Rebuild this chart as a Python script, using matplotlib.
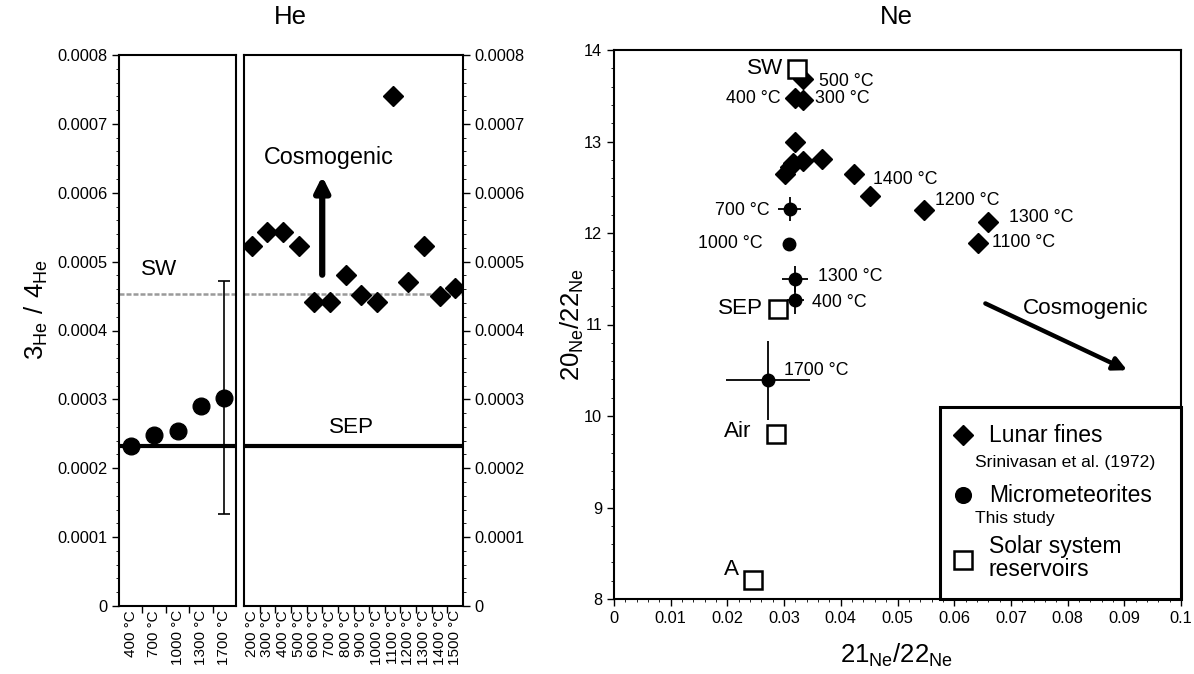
import matplotlib
matplotlib.use("Agg")
import matplotlib.pyplot as plt
from matplotlib.ticker import MultipleLocator, FixedLocator
from matplotlib.patches import Rectangle
from matplotlib.lines import Line2D

plt.rcParams['font.family'] = ['Liberation Sans', 'DejaVu Sans']

# ---------------- He data ----------------
he_micro_labels = ['400 °C', '700 °C', '1000 °C', '1300 °C', '1700 °C']
he_micro = [2.33e-4, 2.48e-4, 2.54e-4, 2.90e-4, 3.02e-4]
he_micro_err_low = [0, 0, 0, 0, 1.69e-4]
he_micro_err_high = [0, 0, 0, 0, 1.70e-4]

he_lunar_labels = ['200 °C', '300 °C', '400 °C', '500 °C', '600 °C', '700 °C', '800 °C',
                   '900 °C', '1000 °C', '1100 °C', '1200 °C', '1300 °C', '1400 °C', '1500 °C']
he_lunar = [5.22e-4, 5.43e-4, 5.43e-4, 5.22e-4, 4.41e-4, 4.41e-4, 4.81e-4,
            4.51e-4, 4.41e-4, 7.41e-4, 4.70e-4, 5.22e-4, 4.50e-4, 4.62e-4]
he_sw = 4.53e-4
he_sep = 2.33e-4
he_yticks = [0, 0.0001, 0.0002, 0.0003, 0.0004, 0.0005, 0.0006, 0.0007, 0.0008]
he_yticklabels = ['0', '0.0001', '0.0002', '0.0003', '0.0004', '0.0005', '0.0006', '0.0007', '0.0008']

# ---------------- Ne data ----------------
ne_lunar_x = [0.0333, 0.0320, 0.0334, 0.0320, 0.0302, 0.0310, 0.0316, 0.0333, 0.0366,
              0.0424, 0.0452, 0.0547, 0.0660, 0.0642]
ne_lunar_y = [13.68, 13.47, 13.45, 12.99, 12.64, 12.72, 12.77, 12.79, 12.81,
              12.64, 12.40, 12.25, 12.12, 11.89]

ne_micro_labels = ['400 °C', '700 °C', '1000 °C', '1300 °C', '1700 °C']
ne_micro_x = [0.0320, 0.0310, 0.0308, 0.0320, 0.0271]
ne_micro_y = [11.27, 12.26, 11.88, 11.50, 10.39]
ne_micro_xerr = [0.0015, 0.0020, 0.0010, 0.0023, 0.0074]
ne_micro_yerr = [0.15, 0.13, 0.05, 0.14, 0.43]

res_names = ['SW', 'SEP', 'Air', 'A']
res_x = [0.0323, 0.0289, 0.0286, 0.0245]
res_y = [13.79, 11.17, 9.80, 8.21]

ne_xticks = [0, 0.01, 0.02, 0.03, 0.04, 0.05, 0.06, 0.07, 0.08, 0.09, 0.1]
ne_xticklabels = ['0', '0.01', '0.02', '0.03', '0.04', '0.05', '0.06', '0.07', '0.08', '0.09', '0.1']
ne_yticks = [8, 9, 10, 11, 12, 13, 14]

W, H = 1194, 674
fig = plt.figure(figsize=(W / 100, H / 100), dpi=100)


def fbox(x0, x1, ytop, ybot):
    return [x0 / W, 1 - ybot / H, (x1 - x0) / W, (ybot - ytop) / H]


ax1 = fig.add_axes(fbox(119, 236, 55, 606))
ax2 = fig.add_axes(fbox(244, 463, 55, 606))
ax3 = fig.add_axes(fbox(614, 1181, 50, 599))

tick_fs = 11.8
big_fs = 16.2
lab_fs = 12.8
for ax in (ax1, ax2, ax3):
    for s in ax.spines.values():
        s.set_linewidth(1.5)
    ax.tick_params(direction='out', width=1.0, length=5, labelsize=tick_fs)
    ax.tick_params(which='minor', direction='out', width=0.6, length=2.5)

sw_style = dict(color='#9a9a9a', lw=1.8, ls=(0, (2, 0.8)), zorder=1)

# ---- panel 1: micrometeorites ----
n1 = len(he_micro)
x1 = list(range(n1))
ax1.axhline(he_sw, **sw_style)
ax1.axhline(he_sep, color='black', lw=3, zorder=2)
ax1.errorbar(x1, he_micro, yerr=[he_micro_err_low, he_micro_err_high], fmt='o',
             color='black', ms=12, ecolor='black', elinewidth=1.2, capsize=4,
             capthick=1.2, zorder=3)
ax1.set_xlim(-0.5, n1 - 0.5)
ax1.set_ylim(0, 0.0008)
ax1.xaxis.set_major_locator(FixedLocator([i + 0.5 for i in range(n1 - 1)]))
ax1.xaxis.set_minor_locator(FixedLocator(x1))
ax1.set_xticklabels([])
ax1.set_xticklabels(he_micro_labels, minor=True, rotation=90, va='top')
ax1.tick_params(axis='x', which='minor', length=0, pad=3, labelsize=11)
ax1.set_yticks(he_yticks)
ax1.set_yticklabels(he_yticklabels)
ax1.yaxis.set_minor_locator(MultipleLocator(0.00002))
ax1.tick_params(right=False, top=False)
ax1.tick_params(axis='y', which='minor', right=False)
ax1.text(1.2, 4.88e-4, 'SW', fontsize=big_fs, ha='center', va='center')

# ---- panel 2: lunar fines ----
n2 = len(he_lunar)
x2 = list(range(n2))
ax2.axhline(he_sw, **sw_style)
ax2.axhline(he_sep, color='black', lw=3, zorder=2)
ax2.plot(x2, he_lunar, 'D', color='black', ms=9.8, zorder=3)
ax2.set_xlim(-0.5, n2 - 0.5)
ax2.set_ylim(0, 0.0008)
ax2.xaxis.set_major_locator(FixedLocator([i + 0.5 for i in range(n2 - 1)]))
ax2.xaxis.set_minor_locator(FixedLocator(x2))
ax2.set_xticklabels([])
ax2.set_xticklabels(he_lunar_labels, minor=True, rotation=90, va='top')
ax2.tick_params(axis='x', which='minor', length=0, pad=3, labelsize=11)
ax2.yaxis.tick_right()
ax2.set_yticks(he_yticks)
ax2.set_yticklabels(he_yticklabels)
ax2.yaxis.set_minor_locator(MultipleLocator(0.00002))
ax2.text(6.4, 2.59e-4, 'SEP', fontsize=big_fs, ha='center', va='center')
ax2.text(4.9, 6.51e-4, 'Cosmogenic', fontsize=16.8, ha='center', va='center')
ax2.annotate('', xy=(4.5, 6.24e-4), xytext=(4.5, 4.81e-4),
             arrowprops=dict(arrowstyle='-|>', lw=4.5, color='black', mutation_scale=22,
                             shrinkA=0, shrinkB=0))

# ---- panel 3: Ne ----
ax3.errorbar(ne_micro_x, ne_micro_y, xerr=ne_micro_xerr, yerr=ne_micro_yerr, fmt='o',
             color='black', ms=9, ecolor='black', elinewidth=1.3, capsize=0, zorder=3)
ax3.plot(ne_lunar_x, ne_lunar_y, 'D', color='black', ms=9.8, zorder=3)
ax3.plot(res_x, res_y, 's', mfc='white', mec='black', mew=1.8, ms=12.5, zorder=4)
ax3.set_xlim(0, 0.1)
ax3.set_ylim(8, 14)
ax3.set_xticks(ne_xticks)
ax3.set_xticklabels(ne_xticklabels)
ax3.set_yticks(ne_yticks)
ax3.xaxis.set_minor_locator(MultipleLocator(0.002))
ax3.yaxis.set_minor_locator(MultipleLocator(0.2))
# lunar labels
ax3.text(0.0362, 13.66, '500 °C', fontsize=lab_fs, ha='left', va='center')
ax3.text(0.0294, 13.47, '400 °C', fontsize=lab_fs, ha='right', va='center')
ax3.text(0.0355, 13.47, '300 °C', fontsize=lab_fs, ha='left', va='center')
ax3.text(0.0456, 12.58, '1400 °C', fontsize=lab_fs, ha='left', va='center')
ax3.text(0.0566, 12.36, '1200 °C', fontsize=lab_fs, ha='left', va='center')
ax3.text(0.0696, 12.17, '1300 °C', fontsize=lab_fs, ha='left', va='center')
ax3.text(0.0667, 11.90, '1100 °C', fontsize=lab_fs, ha='left', va='center')
# micrometeorite labels
ax3.text(0.0274, 12.25, ne_micro_labels[1], fontsize=lab_fs, ha='right', va='center')
ax3.text(0.0263, 11.89, ne_micro_labels[2], fontsize=lab_fs, ha='right', va='center')
ax3.text(0.0359, 11.52, ne_micro_labels[3], fontsize=lab_fs, ha='left', va='center')
ax3.text(0.0350, 11.24, ne_micro_labels[0], fontsize=lab_fs, ha='left', va='center')
ax3.text(0.0300, 10.50, ne_micro_labels[4], fontsize=lab_fs, ha='left', va='center')
# reservoir labels
ax3.text(0.0298, 13.80, res_names[0], fontsize=big_fs, ha='right', va='center')
ax3.text(0.0262, 11.17, res_names[1], fontsize=big_fs, ha='right', va='center')
ax3.text(0.0242, 9.83, res_names[2], fontsize=big_fs, ha='right', va='center')
ax3.text(0.0220, 8.32, res_names[3], fontsize=big_fs, ha='right', va='center')
# cosmogenic arrow
ax3.text(0.0831, 11.18, 'Cosmogenic', fontsize=big_fs, ha='center', va='center')
ax3.annotate('', xy=(0.0905, 10.50), xytext=(0.0655, 11.23),
             arrowprops=dict(arrowstyle='-|>', lw=3.2, color='black', mutation_scale=20,
                             shrinkA=0, shrinkB=0))

# legend box
lx0 = (940 - 614) / 567
ly1 = (599 - 407) / 549
ax3.add_patch(Rectangle((lx0, 0), 1 - lx0, ly1, transform=ax3.transAxes, fill=True,
                        fc='white', ec='black', lw=2.2, zorder=5, clip_on=False))


def ax_pt(px, py):
    return ((px - 614) / 567, (599 - py) / 549)


items = [
    ('D', 9.8, 'Lunar fines', 'Srinivasan et al. (1972)', 435, 462),
    ('o', 11.3, 'Micrometeorites', 'This study', 495, 518),
]
for mk, ms, main, sub, ym, ys in items:
    mx, my = ax_pt(963, ym)
    ax3.add_line(Line2D([mx], [my], marker=mk, mfc='black', mec='black', ms=ms, ls='none',
                        transform=ax3.transAxes, zorder=6, clip_on=False))
    tx, ty = ax_pt(989, ym)
    ax3.text(tx, ty, main, fontsize=16.5, ha='left', va='center', transform=ax3.transAxes,
             zorder=6)
    sx, sy = ax_pt(975, ys)
    ax3.text(sx, sy, sub, fontsize=12.6, ha='left', va='center', transform=ax3.transAxes,
             zorder=6)

mx, my = ax_pt(963, 560)
ax3.add_line(Line2D([mx], [my], marker='s', mfc='white', mec='black', mew=1.8, ms=13.5,
                    ls='none', transform=ax3.transAxes, zorder=6, clip_on=False))
tx, ty = ax_pt(989, 558)
ax3.text(tx, ty, 'Solar system\nreservoirs', fontsize=16.5, ha='left', va='center',
         transform=ax3.transAxes, zorder=6, linespacing=0.95)

# titles and axis labels
fig.text(290 / W, 1 - 17 / H, 'He', fontsize=18.5, ha='center', va='center')
fig.text(896 / W, 1 - 17 / H, 'Ne', fontsize=18.5, ha='center', va='center')
fig.text(36 / W, 1 - 310 / H, r'$\mathregular{3_{He}\ /\ 4_{He}}$', fontsize=18.5,
         rotation=90, ha='center', va='center')
fig.text(572 / W, 1 - 325 / H, r'$\mathregular{20_{Ne}/22_{Ne}}$', fontsize=18.5,
         rotation=90, ha='center', va='center')
fig.text(896 / W, 1 - 655 / H, r'$\mathregular{21_{Ne}/22_{Ne}}$', fontsize=18.5,
         ha='center', va='center')

fig.savefig('out.png', dpi=100)
